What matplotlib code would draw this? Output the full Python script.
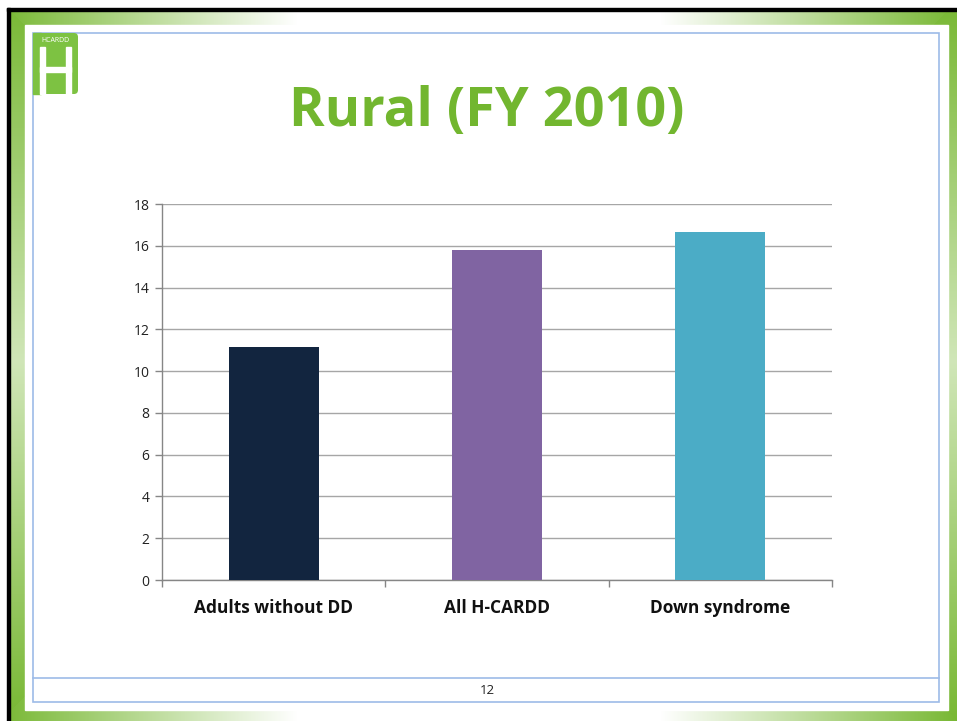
import numpy as np
import matplotlib
matplotlib.use('Agg')
import matplotlib.pyplot as plt
from matplotlib.patches import Rectangle, FancyBboxPatch

plt.rcParams['font.family'] = ['Open Sans', 'DejaVu Sans']

categories = ['Adults without DD', 'All H-CARDD', 'Down syndrome']
values = [11.15, 15.8, 16.65]
bar_colors = ['#12253f', '#8064a2', '#4bacc6']
yticks = [0, 2, 4, 6, 8, 10, 12, 14, 16, 18]
title = 'Rural (FY 2010)'
page_number = '12'

W, H = 957, 721
fig = plt.figure(figsize=(W / 100, H / 100), dpi=100)

# slide background drawn in pixel coordinates
bg = fig.add_axes([0, 0, 1, 1])
bg.set_xlim(0, W)
bg.set_ylim(H, 0)
bg.axis('off')

# green gradient frame
yy, xx = np.mgrid[0:H, 0:W]
dx = np.minimum(xx, W - xx) / (W / 2)
dy = np.minimum(yy, H - yy) / (H / 2)
w_tb = np.clip(1 - dx / 0.62, 0, 1)
w_lr = np.clip(1 - 0.65 * dy, 0, 1)
w = np.where(np.minimum(xx, W - xx) < np.minimum(yy, H - yy), w_lr, w_tb)
dark = np.array([0.47, 0.72, 0.20])
white = np.array([1.0, 1.0, 1.0])
img = white[None, None, :] * (1 - w[..., None]) + dark[None, None, :] * w[..., None]
bg.imshow(img, extent=[0, W, H, 0], aspect='auto', zorder=0)

bg.add_patch(Rectangle((0, 0), W, 8, color='white', zorder=1))
bg.add_patch(Rectangle((0, 0), 7, H, color='white', zorder=1))
bg.add_patch(Rectangle((7, 8), W, 3, color='black', zorder=2))
bg.add_patch(Rectangle((7, 8), 3, H, color='black', zorder=2))
bg.add_patch(Rectangle((25, 25), 923, 685, color='white', zorder=2))

# light blue slide outlines
blue = '#9dbbe8'
bg.add_patch(Rectangle((33, 33), 906, 669, fill=False, ec=blue, lw=1.2, zorder=3))
bg.plot([33, 939], [678, 678], color=blue, lw=1.2, zorder=3)

# logo
logo_green = '#7dc242'
bg.add_patch(FancyBboxPatch((33, 33), 45, 61, boxstyle='round,pad=0,rounding_size=4',
                            fc=logo_green, ec='none', zorder=4))
bg.add_patch(Rectangle((33, 33), 8, 61, color=logo_green, zorder=4))
bg.add_patch(Rectangle((40, 47), 5, 47, color='white', zorder=5))
bg.add_patch(Rectangle((66, 47), 5, 47, color='white', zorder=5))
bg.add_patch(Rectangle((40, 67), 31, 5, color='white', zorder=5))
bg.text(55.5, 40.5, 'HCARDD', color='white', fontsize=5, ha='center', va='center', zorder=5)

# title and page number
bg.text(487, 112, title, color='#72b62f', fontsize=39, fontweight='bold',
        ha='center', va='center', zorder=5)
bg.text(487, 690, page_number, color='#222222', fontsize=9.5, ha='center', va='center', zorder=5)

# chart
ax = fig.add_axes([162 / W, 141 / H, 670 / W, 376 / H])
ax.set_facecolor('none')
x = np.arange(len(categories))
ax.bar(x, values, width=0.403, color=bar_colors, zorder=3)
ax.set_xlim(-0.5, len(categories) - 0.5)
ax.set_ylim(0, 18)
ax.set_yticks(yticks)
ax.set_yticklabels([str(t) for t in yticks], fontsize=10, color='#222222')
ax.yaxis.grid(True, color='#a6a6a6', lw=1, zorder=0)
ax.tick_params(axis='y', length=5, color='#868686', width=1, pad=4)

ax.set_xticks(x)
ax.set_xticklabels(categories, fontsize=12.5, fontweight='bold', color='#111111')
ax.tick_params(axis='x', length=0, pad=14)
ax.set_xticks(np.arange(-0.5, len(categories)), minor=True)
ax.tick_params(axis='x', which='minor', length=5, color='#868686', width=1)

for s in ['top', 'right']:
    ax.spines[s].set_visible(False)
for s in ['left', 'bottom']:
    ax.spines[s].set_color('#868686')
    ax.spines[s].set_linewidth(1)

fig.savefig('out.png', dpi=100)
